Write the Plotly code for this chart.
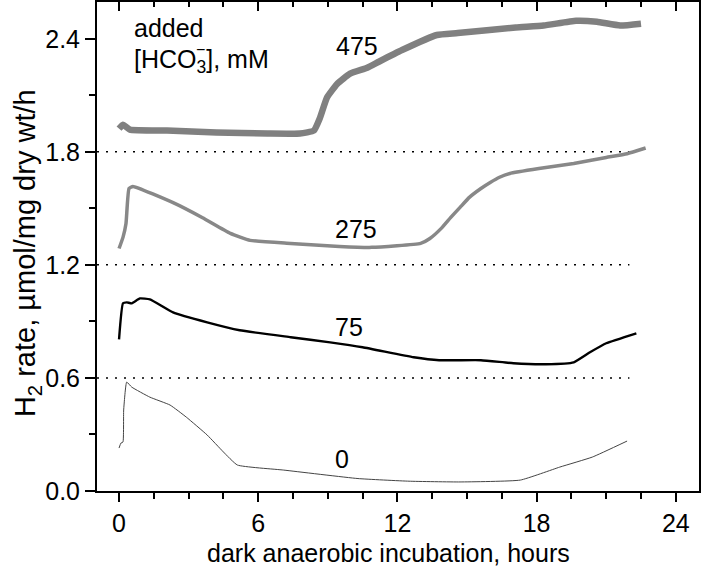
import plotly.graph_objects as go

# hours of dark anaerobic incubation / H2 rate
t0 = [0, 0.08, 0.17, 0.2, 0.33, 0.55, 1.33, 2.2, 2.9, 3.8, 4.5, 5.1, 7.1, 10.3, 12.5, 14.7, 17.3, 19.0, 20.4, 21.9]
r0 = [0.228, 0.254, 0.26, 0.43, 0.578, 0.551, 0.498, 0.456, 0.392, 0.297, 0.207, 0.138, 0.111, 0.066, 0.052, 0.048, 0.058, 0.127, 0.18, 0.265]

t75 = [0, 0.17, 0.33, 0.55, 0.9, 1.33, 2.33, 3.8, 5.2, 7.4, 9.1, 10.5, 12.7, 13.8, 15.6, 17.0, 18.4, 19.6, 20.3, 21.0, 22.3]
r75 = [0.805, 0.996, 1.001, 0.996, 1.022, 1.017, 0.948, 0.895, 0.853, 0.816, 0.789, 0.763, 0.71, 0.694, 0.694, 0.678, 0.673, 0.683, 0.736, 0.784, 0.837]

t275 = [0, 0.17, 0.3, 0.43, 0.6, 2.33, 3.6, 4.8, 5.65, 7.4, 9.5, 10.9, 13.0, 13.4, 13.9, 14.3, 14.7, 15.1, 15.6, 16.0, 16.4, 16.85, 18.1, 19.6, 21.0, 21.9, 22.7]
r275 = [1.287, 1.346, 1.42, 1.605, 1.616, 1.53, 1.45, 1.367, 1.33, 1.314, 1.298, 1.293, 1.314, 1.34, 1.395, 1.452, 1.505, 1.558, 1.605, 1.637, 1.665, 1.685, 1.711, 1.738, 1.77, 1.79, 1.82]

t475 = [0, 0.17, 0.47, 2.07, 4.2, 6.4, 7.8, 8.4, 8.66, 8.96, 9.4, 9.96, 10.7, 11.2, 12.2, 13.7, 14.6, 17.1, 18.3, 19.7, 20.6, 21.6, 22.5]
r475 = [1.923, 1.944, 1.918, 1.913, 1.902, 1.897, 1.897, 1.913, 1.98, 2.087, 2.16, 2.215, 2.246, 2.278, 2.34, 2.42, 2.43, 2.46, 2.47, 2.495, 2.49, 2.47, 2.48]

# dotted guide levels and their x extent
guide_levels = [0.6, 1.2, 1.8]
guide_x = [-0.95, 22.0]

# curve labels: text, x, y
label_text = ["475", "275", "75", "0"]
label_x = [10.26, 10.2, 9.9, 9.6]
label_y = [2.36, 1.39, 0.87, 0.17]

FONT = "Liberation Sans, Arial, sans-serif"
BLACK = dict(size=25, color="black", family=FONT)

fig = go.Figure()

for lvl in guide_levels:
    fig.add_trace(go.Scatter(
        x=guide_x, y=[lvl, lvl], mode="lines",
        line=dict(color="black", width=1.5, dash="2px,7px"),
        hoverinfo="skip"))

curves = [
    (t0, r0, "#444444", 1.0),
    (t75, r75, "black", 2.4),
    (t275, r275, "#888888", 3.5),
    (t475, r475, "#808080", 6.5),
]
for t, r, col, w in curves:
    fig.add_trace(go.Scatter(
        x=t, y=r, mode="lines",
        line=dict(color=col, width=w, shape="spline", smoothing=0.4)))

for txt, lx, ly in zip(label_text, label_x, label_y):
    fig.add_annotation(x=lx, y=ly, text=txt, showarrow=False, font=BLACK)

# legend-like heading, top left
fig.add_annotation(xref="paper", yref="paper", x=0.058, y=0.947, xanchor="left",
                   yanchor="middle", text="added", showarrow=False, font=BLACK)
fig.add_annotation(xref="paper", yref="paper", x=0.058, y=0.879, xanchor="left",
                   yanchor="middle", text="[HCO<sub>3</sub>], mM", showarrow=False,
                   font=BLACK)
# minus sign stacked above the subscript 3
fig.add_annotation(xref="paper", yref="paper", x=0.172, y=0.902, xanchor="center",
                   yanchor="middle", text="−", showarrow=False,
                   font=dict(size=16, color="black", family=FONT))

# axis titles
fig.add_annotation(xref="paper", yref="paper", x=0.485, y=-0.127, xanchor="center",
                   yanchor="middle", text="dark anaerobic incubation, hours",
                   showarrow=False, font=BLACK)
fig.add_annotation(xref="paper", yref="paper", x=-0.115, y=0.486, xanchor="center",
                   yanchor="middle", text="H<sub>2</sub> rate, µmol/mg dry wt/h",
                   textangle=-90, showarrow=False,
                   font=dict(size=29, color="black", family=FONT))

axis_common = dict(showgrid=False, zeroline=False, linecolor="black", linewidth=2,
                   tickcolor="black", tickwidth=1.5, automargin=False,
                   tickfont=BLACK)

fig.update_layout(
    width=701, height=576,
    margin=dict(l=97, r=2, t=2, b=85),
    paper_bgcolor="white", plot_bgcolor="white",
    showlegend=False,
    xaxis=dict(range=[-0.95, 25.0], tickvals=[0, 6, 12, 18, 24], ticks="outside",
               ticklen=9, showline=True, mirror=True,
               minor=dict(dtick=1.5, tick0=0, ticks="outside", ticklen=6,
                          tickcolor="black", tickwidth=1.5),
               **axis_common),
    xaxis2=dict(range=[-0.95, 25.0], overlaying="x", side="top",
                tickvals=[0, 6, 12, 18, 24], ticks="inside", ticklen=9,
                showticklabels=False, showline=False,
                minor=dict(dtick=1.5, tick0=0, ticks="inside", ticklen=5,
                           tickcolor="black", tickwidth=1.5),
                showgrid=False, zeroline=False, tickcolor="black", tickwidth=1.5),
    yaxis=dict(range=[0, 2.595], tickvals=[0, 0.6, 1.2, 1.8, 2.4],
               ticktext=["0.0", "0.6", "1.2", "1.8", "2.4"], ticks="outside",
               ticklen=10, showline=True, mirror=True,
               minor=dict(dtick=0.3, tick0=0, ticks="outside", ticklen=6,
                          tickcolor="black", tickwidth=1.5),
               **axis_common),
)

# dummy trace to show the top axis
fig.add_trace(go.Scatter(x=[None], y=[None], xaxis="x2", showlegend=False))

# the page's default body margin would shift the figure by 8px
fig.write_html("out.html", config={"displayModeBar": False},
               post_script="document.body.style.margin='0';")
